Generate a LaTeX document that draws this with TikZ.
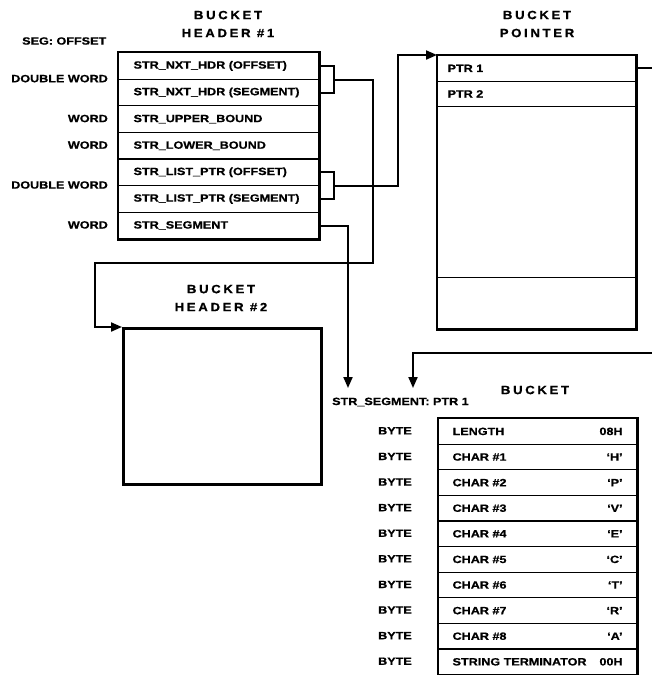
\documentclass[tikz,border=0pt]{standalone}
\usepackage{fontspec}
\setmainfont{Liberation Sans}[FakeStretch=1.2, FakeBold=0.8]
\newfontfamily\ttlfont{Liberation Sans}[FakeStretch=1.1, LetterSpace=22, FakeBold=0.8]
\usetikzlibrary{arrows.meta}

\begin{document}
\begin{tikzpicture}[
  x=1pt, y=-1pt,
  every node/.style={font=\fontsize{10.5}{12}\selectfont\bfseries},
  ttl/.style={
    font=\ttlfont\fontsize{12}{18}\selectfont\bfseries,
    align=center, inner sep=0pt
  },
  lbl/.style={anchor=east, inner sep=0pt},
  hcell/.style={
    rectangle, draw, line width=1.2pt, anchor=north west,
    minimum height=26.6pt, text width=170pt,
    inner xsep=15pt, inner ysep=0pt, align=left
  },
  pcell/.style={
    rectangle, draw, line width=1.2pt, anchor=north west,
    text width=178pt, inner xsep=10pt, inner ysep=0pt, align=left
  },
  bcell/.style={
    rectangle, draw, line width=1.2pt, anchor=north west,
    minimum height=25.6pt, text width=170pt,
    inner xsep=14pt, inner ysep=0pt, align=left
  },
  frame/.style={line width=2.8pt},
  flowline/.style={line width=2pt},
  flowarrow/.style={
    line width=2pt, -{Triangle[length=11pt, width=9pt]}
  }
]

\useasboundingbox (0,0) rectangle (652,675);
\clip (0,0) rectangle (652,675);

%% Header #1 position
\def\hx{118}
\def\hy{52}
\def\rh{26.6}

%% Bucket position
\def\bx{438}
\def\by{418}
\def\brh{25.6}

%% === TITLES ===
\node[ttl] (t1) at (228, 24) {BUCKET\\HEADER \#1};
\node[ttl] (t2) at (537, 24) {BUCKET\\POINTER};
\node[ttl] (t3) at (221, 298) {BUCKET\\HEADER \#2};
\node[ttl] (t4) at (535, 390) {BUCKET};

%% === BUCKET HEADER #1 ===
\node[lbl, anchor=west] (segoff) at (22, 41) {SEG: OFFSET};

\node[hcell] (h1) at (\hx, \hy + 0*\rh) {STR\_NXT\_HDR (OFFSET)};
\node[hcell] (h2) at (\hx, \hy + 1*\rh) {STR\_NXT\_HDR (SEGMENT)};
\node[hcell] (h3) at (\hx, \hy + 2*\rh) {STR\_UPPER\_BOUND};
\node[hcell] (h4) at (\hx, \hy + 3*\rh) {STR\_LOWER\_BOUND};
\node[hcell] (h5) at (\hx, \hy + 4*\rh) {STR\_LIST\_PTR (OFFSET)};
\node[hcell] (h6) at (\hx, \hy + 5*\rh) {STR\_LIST\_PTR (SEGMENT)};
\node[hcell] (h7) at (\hx, \hy + 6*\rh) {STR\_SEGMENT};
\draw[frame] (h1.north west) rectangle (h7.south east);

\node[lbl] (w1) at (108, \hy + 1*\rh)   {DOUBLE WORD};
\node[lbl] (w2) at (108, \hy + 2.5*\rh) {WORD};
\node[lbl] (w3) at (108, \hy + 3.5*\rh) {WORD};
\node[lbl] (w4) at (108, \hy + 5*\rh)   {DOUBLE WORD};
\node[lbl] (w5) at (108, \hy + 6.5*\rh) {WORD};

%% === BUCKET HEADER #2 ===
\node[draw, frame, anchor=north west, minimum width=198pt,
      minimum height=156pt] (hb2) at (122, 327) {};

%% === BUCKET POINTER ===
\node[pcell, minimum height=25.5pt] (p1) at (437, 55) {PTR 1};
\node[pcell, minimum height=25.5pt] (p2) at (437, 80.5) {PTR 2};
\node[pcell, minimum height=171pt] (p3) at (437, 106) {};
\node[pcell, minimum height=51pt] (p4) at (437, 277) {};
\draw[frame] (p1.north west) rectangle (p4.south east);

%% === BUCKET ===
\node[lbl, anchor=west] (seglbl) at (332, 402) {STR\_SEGMENT: PTR 1};

\node[bcell] (b1)  at (\bx, \by + 0*\brh) {LENGTH\hfill 08H};
\node[bcell] (b2)  at (\bx, \by + 1*\brh) {CHAR \#1\hfill `H'};
\node[bcell] (b3)  at (\bx, \by + 2*\brh) {CHAR \#2\hfill `P'};
\node[bcell] (b4)  at (\bx, \by + 3*\brh) {CHAR \#3\hfill `V'};
\node[bcell] (b5)  at (\bx, \by + 4*\brh) {CHAR \#4\hfill `E'};
\node[bcell] (b6)  at (\bx, \by + 5*\brh) {CHAR \#5\hfill `C'};
\node[bcell] (b7)  at (\bx, \by + 6*\brh) {CHAR \#6\hfill `T'};
\node[bcell] (b8)  at (\bx, \by + 7*\brh) {CHAR \#7\hfill `R'};
\node[bcell] (b9)  at (\bx, \by + 8*\brh) {CHAR \#8\hfill `A'};
\node[bcell] (b10) at (\bx, \by + 9*\brh) {STRING TERMINATOR\hfill 00H};
\draw[frame] (b1.north west) rectangle (b10.south east);

\node[lbl] (y1)  at (412, \by + 0.5*\brh) {BYTE};
\node[lbl] (y2)  at (412, \by + 1.5*\brh) {BYTE};
\node[lbl] (y3)  at (412, \by + 2.5*\brh) {BYTE};
\node[lbl] (y4)  at (412, \by + 3.5*\brh) {BYTE};
\node[lbl] (y5)  at (412, \by + 4.5*\brh) {BYTE};
\node[lbl] (y6)  at (412, \by + 5.5*\brh) {BYTE};
\node[lbl] (y7)  at (412, \by + 6.5*\brh) {BYTE};
\node[lbl] (y8)  at (412, \by + 7.5*\brh) {BYTE};
\node[lbl] (y9)  at (412, \by + 8.5*\brh) {BYTE};
\node[lbl] (y10) at (412, \by + 9.5*\brh) {BYTE};

%% === CONNECTORS ===
\coordinate (segtip) at (348, 388);
\coordinate (ptrtip) at (413, 388);

%% next header -> bucket header #2
\draw[flowline] (h1.east) -- ++(15,0) |- (h2.east);
\draw[flowarrow] (h1.south east) ++(15,0) -| (373, 263) -| (95, 327)
  -- (hb2.north west);

%% list pointer -> bucket pointer
\draw[flowline] (h5.east) -- ++(15,0) |- (h6.east);
\draw[flowarrow] (h5.south east) ++(15,0) -| (398, 55) -- (p1.north west);

%% segment -> bucket
\draw[flowarrow] (h7.east) -| (segtip);

%% PTR 1 -> bucket (runs off the right edge)
\draw[flowarrow] (p1.east) -| (700, 353) -| (ptrtip);

\end{tikzpicture}
\end{document}
